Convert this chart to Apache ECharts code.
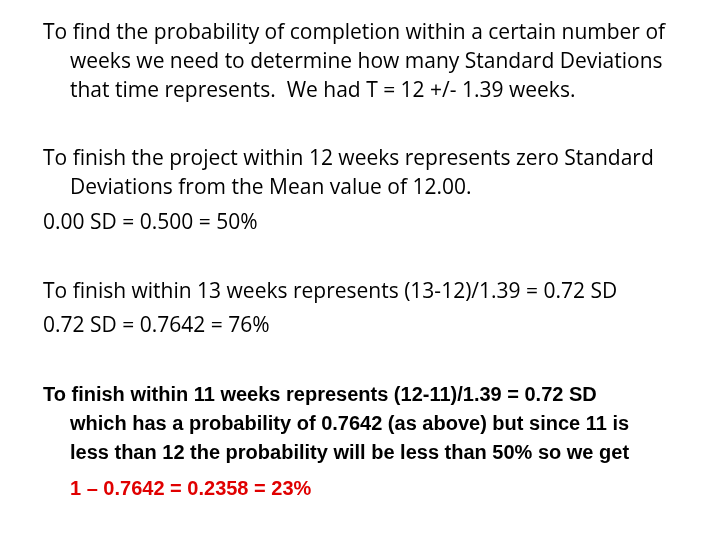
<!DOCTYPE html>
<html><head><meta charset="utf-8">
<script src="https://cdn.jsdelivr.net/npm/echarts@6/dist/echarts.min.js"></script>
<style>html,body{margin:0;background:#fff}#c{width:720px;height:540px}</style>
</head><body><div id="c"></div>
<script>
const lines = [
 "To find the probability of completion within a certain number of",
 "weeks we need to determine how many Standard Deviations",
 "that time represents.  We had T = 12 +/- 1.39 weeks.",
 "To finish the project within 12 weeks represents zero Standard",
 "Deviations from the Mean value of 12.00.",
 "0.00 SD = 0.500 = 50%",
 "To finish within 13 weeks represents (13-12)/1.39 = 0.72 SD",
 "0.72 SD = 0.7642 = 76%",
 "To finish within 11 weeks represents (12-11)/1.39 = 0.72 SD",
 "which has a probability of 0.7642 (as above) but since 11 is",
 "less than 12 the probability will be less than 50% so we get",
 "1 \u2013 0.7642 = 0.2358 = 23%"
];
const ys = [36,65,94,162,191,226,295,329,398,427,456,492];
const indent = [0,1,1,0,1,0,0,0,0,1,1,1];
const bold = [0,0,0,0,0,0,0,0,1,1,1,1];
const red = [0,0,0,0,0,0,0,0,0,0,0,1];
const chart = echarts.init(document.getElementById('c'));
chart.setOption({
  graphic: lines.map((t,i)=>({
    type:'text', left: indent[i]?70:43, top: ys[i]-13,
    style:{text:t, fill: red[i]?'#e00000':'#000',
      font: bold[i] ? 'bold 20px "Liberation Sans Narrow", sans-serif'
                    : '21px "Open Sans", sans-serif'}
  }))
});
</script></body></html>
